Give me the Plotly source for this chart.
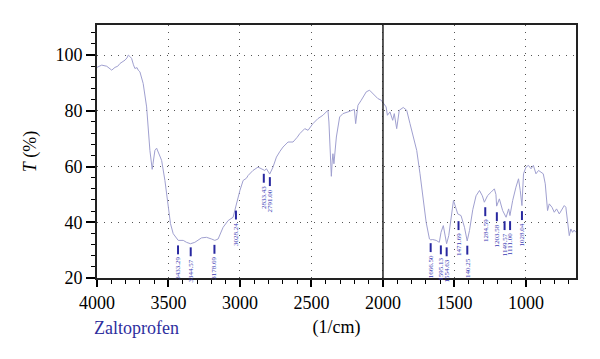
import plotly.graph_objects as go

# ---- spectrum data (wavenumber 1/cm, transmittance %) ----
wavenumber = [4000, 3967, 3932, 3897, 3874, 3855, 3839, 3820, 3804, 3790, 3781, 3770, 3758, 3745, 3735,
              3720, 3712, 3700, 3677, 3653, 3642, 3630, 3614, 3605, 3595, 3583, 3570, 3560, 3548, 3525,
              3502, 3486, 3467, 3450, 3432, 3397, 3374, 3346, 3316, 3269, 3234, 3199, 3176, 3153, 3118,
              3083, 3048, 3030, 3015, 3000, 2978, 2955, 2943, 2909, 2874, 2850, 2827, 2815, 2792, 2769,
              2745, 2720, 2699, 2664, 2629, 2600, 2582, 2547, 2524, 2490, 2455, 2420, 2395, 2385, 2378,
              2373, 2361, 2355, 2350, 2343, 2336, 2326, 2303, 2280, 2245, 2210, 2200, 2191, 2184, 2175,
              2152, 2117, 2094, 2071, 2036, 2012, 1994, 1978, 1969, 1951, 1932, 1921, 1904, 1886, 1858,
              1834, 1811, 1788, 1764, 1741, 1721, 1698, 1675, 1666, 1652, 1628, 1606, 1594, 1578, 1568,
              1555, 1540, 1523, 1507, 1488, 1477, 1454, 1430, 1411, 1395, 1372, 1349, 1325, 1305, 1291,
              1268, 1244, 1221, 1210, 1205, 1186, 1163, 1139, 1121, 1112, 1093, 1070, 1052, 1040, 1028,
              1017, 1000, 982, 965, 948, 930, 912, 895, 879, 865, 849, 837, 818, 802, 786,
              767, 749, 732, 721, 709, 697, 686, 674, 663, 651]
transmittance = [95.6, 96.4, 96.0, 94.6, 95.6, 96.0, 97.0, 97.5, 98.2, 99.0, 100.0, 99.5, 98.8, 96.5, 95.2,
                 95.5, 94.6, 94.0, 89.8, 81.4, 74.2, 65.8, 59.0, 62.0, 65.8, 66.6, 65.0, 63.4, 62.2, 55.0,
                 45.4, 39.5, 35.9, 34.5, 33.5, 33.5, 32.8, 32.3, 32.8, 34.4, 34.6, 34.0, 33.5, 34.0, 38.2,
                 40.6, 41.8, 45.5, 49.0, 51.5, 55.0, 55.8, 56.8, 58.6, 59.8, 59.2, 58.6, 59.2, 57.3, 59.8,
                 63.4, 65.5, 67.0, 68.8, 68.8, 70.5, 71.8, 73.6, 73.0, 75.4, 77.2, 78.4, 79.8, 80.2, 76.0,
                 70.6, 56.5, 62.0, 64.6, 61.0, 66.0, 70.6, 77.8, 79.0, 79.6, 80.2, 80.5, 75.4, 79.0, 82.0,
                 83.8, 86.8, 87.4, 86.2, 84.4, 83.8, 82.6, 81.4, 78.4, 79.6, 76.6, 79.0, 73.6, 80.2, 81.2,
                 80.2, 75.4, 70.6, 65.8, 57.4, 48.4, 40.0, 34.0, 33.7, 33.8, 33.5, 32.8, 36.4, 38.8, 35.2,
                 32.3, 35.2, 41.2, 47.8, 44.8, 43.0, 42.4, 38.2, 33.3, 37.0, 44.5, 49.5, 51.4, 49.5, 47.2,
                 49.6, 50.8, 52.0, 50.0, 45.8, 48.4, 44.2, 41.8, 44.8, 42.4, 47.8, 52.6, 55.6, 51.4, 46.0,
                 57.4, 59.8, 60.4, 59.2, 60.4, 57.4, 58.6, 58.0, 57.4, 53.8, 44.2, 46.6, 45.4, 43.6, 44.8,
                 43.0, 44.8, 46.0, 45.4, 39.5, 35.2, 37.6, 36.4, 37.2, 36.4]

# ---- peak annotations ----
peak_wn = [3433.29, 3344.57, 3178.69, 3028.24, 2833.43, 2791.00, 1666.50, 1595.13, 1554.63,
           1471.69, 1410.25, 1284.59, 1203.58, 1149.57, 1111.00, 1028.04]
peak_labels = ["3433.29", "3344.57", "3178.69", "3028.24", "2833.43", "2791.00", "1666.50", "1595.13",
               "1554.63", "1471.69", "140.25", "1284.59", "1203.58", "1149.57", "1111.00", "1028.04"]
peak_level = [31.7, 31.0, 31.9, 44.2, 57.4, 56.2, 32.5, 31.7, 31.0, 40.4, 31.6, 45.4, 43.6, 40.4, 40.4, 44.0]
marker_len = 3.2  # in % units

x_ticks = [4000, 3500, 3000, 2500, 2000, 1500, 1000]
y_ticks = [20, 40, 60, 80, 100]

SERIF = "Liberation Serif, Times New Roman, serif"
BLUE = "#2e2e9e"

fig = go.Figure()
fig.add_trace(go.Scatter(x=wavenumber, y=transmittance, mode="lines",
                         line=dict(color="#a0a0d0", width=1), hoverinfo="skip", showlegend=False))

# peak markers as short vertical bars
bx, by = [], []
for w, lv in zip(peak_wn, peak_level):
    bx += [w, w, None]
    by += [lv, lv - marker_len, None]
fig.add_trace(go.Scatter(x=bx, y=by, mode="lines", line=dict(color="#2828a0", width=2),
                         hoverinfo="skip", showlegend=False))

for w, lv, lab in zip(peak_wn, peak_level, peak_labels):
    fig.add_annotation(x=w, y=lv - marker_len, text=lab, textangle=-90, showarrow=False,
                       xanchor="center", yanchor="top", yshift=-1,
                       font=dict(family=SERIF, size=7, color="#3a3ab4"))

# solid reference line at 2000
fig.add_shape(type="line", x0=2000, x1=2000, y0=0, y1=1, xref="x", yref="paper",
              line=dict(color="#222222", width=1.5), layer="above")

fig.add_annotation(x=-0.0104, y=-0.198, xref="paper", yref="paper", text="Zaltoprofen",
                   showarrow=False, xanchor="left", yanchor="middle",
                   font=dict(family=SERIF, size=18, color=BLUE))

fig.update_layout(
    width=592, height=351,
    margin=dict(l=89, r=24, t=17, b=81),
    paper_bgcolor="white", plot_bgcolor="white",
    font=dict(family=SERIF, size=18, color="black"),
    xaxis=dict(range=[4000, 650], tickvals=x_ticks, ticks="outside", ticklen=7, tickwidth=1.5,
               tickcolor="black", showline=True, linewidth=2, linecolor="#222222", mirror=True,
               showgrid=True, gridcolor="#555555", gridwidth=1.2, griddash="1px,6px",
               minor=dict(dtick=100, ticks="outside", ticklen=4, tickwidth=1.2, tickcolor="black",
                          showgrid=False),
               title=dict(text="(1/cm)", standoff=9, font=dict(family=SERIF, size=18)),
               tickfont=dict(family=SERIF, size=18), zeroline=False),
    yaxis=dict(range=[20, 110.8], tickvals=y_ticks, ticks="outside", ticklen=9, tickwidth=1.5,
               tickcolor="black", showline=True, linewidth=2, linecolor="#222222", mirror=True,
               showgrid=True, gridcolor="#555555", gridwidth=1.2, griddash="1px,6px",
               minor=dict(dtick=4, ticks="outside", ticklen=4, tickwidth=1.2, tickcolor="black",
                          showgrid=False),
               title=dict(text="<i>T</i> (%)", standoff=14, font=dict(family=SERIF, size=18)),
               tickfont=dict(family=SERIF, size=18), zeroline=False),
)

fig.write_html("out.html")
